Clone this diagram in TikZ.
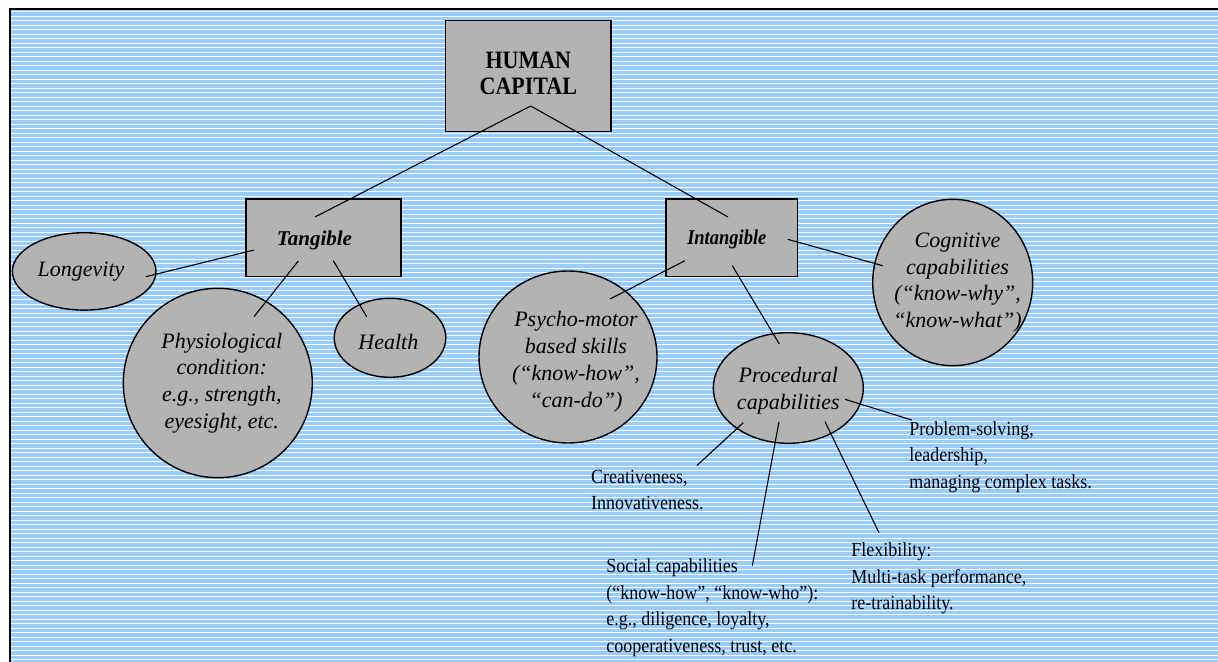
\documentclass[tikz,border=0pt]{standalone}
\usepackage{fontspec}
\setmainfont{Liberation Serif}[ItalicFont={Liberation Serif Italic}, BoldFont={Liberation Serif Bold}, BoldItalicFont={Liberation Serif Bold Italic}]
\newfontfamily\narrowserif{Liberation Serif}[FakeStretch=0.9]
\newfontfamily\hcserif{Liberation Serif Bold}[FakeStretch=0.88]
\newfontfamily\bitserif{Liberation Serif Bold Italic}[FakeStretch=0.88]
\newfontfamily\itserif{Liberation Serif Italic}
\usetikzlibrary{shapes.geometric}
\definecolor{stripeblue}{RGB}{153,204,255}
\definecolor{boxgray}{RGB}{179,179,179}
\begin{document}
\begin{tikzpicture}[x=0.5pt,y=-0.5pt,
  rectbox/.style={draw=black, line width=0.8pt, fill=boxgray, inner sep=0pt},
  ovalbox/.style={ellipse, draw=black, line width=0.7pt, fill=boxgray, inner sep=0pt},
  ovaltext/.style={align=center, inner sep=0pt, font=\itserif\fontsize{11}{13.4}\selectfont},
  plainlabel/.style={align=left, anchor=north west, inner sep=0pt, font=\narrowserif\fontsize{10}{13.3}\selectfont},
  conn/.style={draw=black, line width=0.55pt}]
\useasboundingbox (0,0) rectangle (1218,662);
\fill[white] (0,0) rectangle (1218,662);
\fill[stripeblue] (10,9) rectangle (1218,662);
\foreach \i in {0,...,144} \draw[white, line width=0.5pt] (11,11.7+4.5*\i) -- (1218,11.7+4.5*\i);
\draw[black, line width=1pt] (10,662) -- (10,9) -- (1218,9);

% boxes
\node[rectbox, minimum width=82.65pt, minimum height=55.5pt,
  label={[align=center, inner sep=0pt, yshift=1.45pt, font=\hcserif\fontsize{12.5}{13}\selectfont]center:HUMAN\\CAPITAL}] (hc) at (528.3,76.2) {};
\node[rectbox, minimum width=77.5pt, minimum height=38.7pt,
  label={[inner sep=0pt, xshift=-4.35pt, yshift=-1pt, font=\bfseries\itshape\fontsize{10.5}{12}\selectfont]center:Tangible}] (tang) at (323.2,238) {};
\node[rectbox, minimum width=65.85pt, minimum height=38.85pt,
  label={[inner sep=0pt, xshift=-2.5pt, yshift=-1pt, font=\bitserif\fontsize{10.5}{12}\selectfont]center:Intangible}] (intang) at (731.8,237.8) {};

% ellipses
\node[ovalbox, minimum width=71.8pt, minimum height=38.7pt,
  label={[ovaltext, xshift=-1.6pt]center:Longevity}] (longev) at (84.2,271.4) {};
\node[ovalbox, minimum width=94.5pt, minimum height=94.7pt,
  label={[ovaltext, xshift=2pt]center:Physiological\\condition:\\e.g., strength,\\eyesight, etc.}] (physio) at (217.8,383) {};
\node[ovalbox, minimum width=55.8pt, minimum height=39.5pt,
  label={[ovaltext, xshift=-0.8pt, yshift=-2pt]center:Health}] (health) at (390,337.8) {};
\node[ovalbox, minimum width=89pt, minimum height=86pt,
  label={[ovaltext, xshift=4pt, yshift=-2.3pt]center:Psycho-motor\\based skills\\(“know-how”,\\“can-do”)}] (psycho) at (568,357) {};
\node[ovalbox, minimum width=80pt, minimum height=83.2pt,
  label={[ovaltext, xshift=2.4pt]center:Cognitive\\capabilities\\(“know-why”,\\“know-what”)}] (cogn) at (952.7,282.5) {};
\node[ovalbox, minimum width=75pt, minimum height=55.3pt,
  label={[ovaltext, yshift=-1.5pt]center:Procedural\\capabilities}] (proc) at (788.3,388) {};

% plain labels
\node[plainlabel] (probl) at (909,421) {Problem-solving,\\leadership,\\managing complex tasks.};
\node[plainlabel] (creat) at (590.7,469.5) {Creativeness,\\Innovativeness.};
\node[plainlabel] (social) at (606,558.5) {Social capabilities\\(“know-how”, “know-who”):\\e.g., diligence, loyalty,\\cooperativeness, trust, etc.};
\node[plainlabel] (flex) at (851,542.5) {Flexibility:\\Multi-task performance,\\re-trainability.};

% connector end points
\coordinate (hcA) at (530.7,106);
\coordinate (tangTop) at (315,217);
\coordinate (intangTop) at (728,217);
\coordinate (tangL) at (254.3,250);
\coordinate (longevE) at (145.7,276.7);
\coordinate (tangB) at (298.3,261);
\coordinate (physioE) at (254,316.7);
\coordinate (tangR) at (333.3,260.7);
\coordinate (healthE) at (366.7,316.7);
\coordinate (intangR) at (787.7,239.3);
\coordinate (cognE) at (882.7,265.7);
\coordinate (intangL) at (685,260.7);
\coordinate (psychoE) at (610,299);
\coordinate (intangB) at (732.3,265.7);
\coordinate (procTop) at (779.3,344);
\coordinate (procR) at (845,399.3);
\coordinate (problE) at (911.7,420);
\coordinate (procL) at (743.3,422.7);
\coordinate (creatE) at (696.7,465.7);
\coordinate (procB) at (779,421.7);
\coordinate (socialE) at (752.3,565.7);
\coordinate (procBR) at (825,421.7);
\coordinate (flexE) at (879,532.7);

% connectors
\draw[conn] (hcA) -- (tangTop);
\draw[conn] (hcA) -- (intangTop);
\draw[conn] (tangL) -- (longevE);
\draw[conn] (tangB) -- (physioE);
\draw[conn] (tangR) -- (healthE);
\draw[conn] (intangR) -- (cognE);
\draw[conn] (intangL) -- (psychoE);
\draw[conn] (intangB) -- (procTop);
\draw[conn] (procR) -- (problE);
\draw[conn] (procL) -- (creatE);
\draw[conn] (procB) -- (socialE);
\draw[conn] (procBR) -- (flexE);
\end{tikzpicture}
\end{document}
